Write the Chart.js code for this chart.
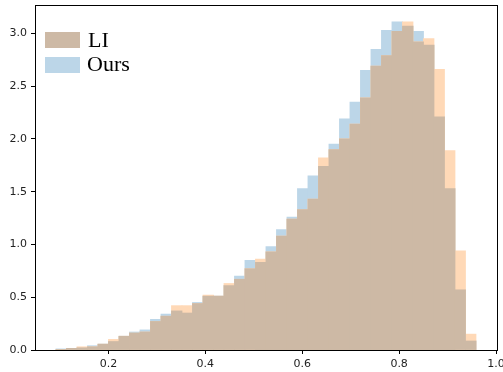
<!DOCTYPE html>
<html>
<head>
<meta charset="utf-8">
<script src="https://cdn.jsdelivr.net/npm/chart.js@4.4.1/dist/chart.umd.min.js"></script>
<style>
body{margin:0;background:#fff;}
#wrap{position:relative;width:503px;height:372px;}
.patch{position:absolute;left:45px;width:35px;height:16px;}
.lbl{position:absolute;left:88px;font-family:"Liberation Serif","Times New Roman",serif;font-size:22px;line-height:22px;color:#000;white-space:nowrap;}
</style>
</head>
<body>
<div id="wrap">
  <canvas id="histChart" width="503" height="372"></canvas>
  <div class="patch" style="top:32px;background:#cdb9a5;"></div>
  <div class="lbl" style="top:29px;">LI</div>
  <div class="patch" style="top:57px;background:#bcd6e8;"></div>
  <div class="lbl" style="top:53px;left:87px;">Ours</div>
</div>
<script>
// histogram bins (40 equal bins)
var binStart = 0.0918;
var binWidth = 0.02167;

// density per bin
var liDensity = [0.005,0.015,0.03,0.03,0.055,0.10,0.13,0.16,0.17,0.27,
                 0.32,0.42,0.42,0.44,0.52,0.51,0.63,0.67,0.77,0.86,
                 0.93,1.08,1.24,1.33,1.43,1.82,1.90,2.00,2.14,2.39,
                 2.69,2.79,3.02,3.11,2.92,2.95,2.66,1.89,0.94,0.15];
var oursDensity = [0.01,0.015,0.02,0.04,0.055,0.08,0.13,0.17,0.19,0.29,
                   0.34,0.37,0.35,0.45,0.51,0.51,0.61,0.70,0.85,0.83,
                   0.98,1.14,1.26,1.53,1.65,1.74,1.95,2.19,2.35,2.65,
                   2.85,3.03,3.11,3.07,3.02,2.89,2.21,1.53,0.57,0.085];

var xTicks = [0.2, 0.4, 0.6, 0.8, 1.0];
var yTicks = [0.0, 0.5, 1.0, 1.5, 2.0, 2.5, 3.0];

var centers = liDensity.map(function(v, i){ return binStart + binWidth*(i + 0.5); });
function pts(arr){ return arr.map(function(v, i){ return {x: centers[i], y: v}; }); }
var both = liDensity.map(function(v, i){ return Math.min(v, oursDensity[i]); });

// box around the axes, like matplotlib spines
var frame = {
  id: 'frame',
  afterDraw: function(chart){
    var a = chart.chartArea, c = chart.ctx;
    c.save();
    c.strokeStyle = '#000';
    c.lineWidth = 1;
    c.strokeRect(Math.round(a.left)+0.5, Math.round(a.top)+0.5, Math.round(a.right-a.left), Math.round(a.bottom-a.top));
    c.restore();
  }
};

var ctx = document.getElementById("histChart");
var histChart = new Chart(ctx, {
  type: 'bar',
  data: {
    datasets: [{
      label: 'overlap',
      data: pts(both),
      backgroundColor: '#cdb9a5',
      order: 0
    },{
      label: 'LI',
      data: pts(liDensity),
      backgroundColor: '#ffd9b7',
      order: 1
    },{
      label: 'Ours',
      data: pts(oursDensity),
      backgroundColor: '#bcd6e8',
      order: 2
    }]
  },
  options: {
    responsive: false,
    animation: false,
    events: [],
    layout: { padding: { top: 5, right: 6, left: 0, bottom: 0 } },
    datasets: {
      bar: {
        grouped: false,
        barPercentage: 1,
        categoryPercentage: 1,
        borderWidth: 0,
        inflateAmount: 0.4
      }
    },
    plugins: { legend: { display: false }, tooltip: { enabled: false } },
    scales: {
      x: {
        type: 'linear',
        min: 0.0485,
        max: 1.002,
        offset: false,
        afterBuildTicks: function(s){ s.ticks = xTicks.map(function(v){ return {value: v}; }); },
        afterFit: function(s){ s.height = 22; s.paddingLeft = 0; s.paddingRight = 0; },
        grid: { drawOnChartArea: false, drawTicks: true, tickLength: 4, color: '#000', offset: false },
        border: { display: true, color: '#000' },
        ticks: {
          padding: 4,
          color: '#222',
          maxRotation: 0,
          font: { family: 'DejaVu Sans', size: 11 },
          callback: function(v){ return v.toFixed(1); }
        }
      },
      y: {
        min: 0,
        max: 3.27,
        afterBuildTicks: function(s){ s.ticks = yTicks.map(function(v){ return {value: v}; }); },
        afterFit: function(s){ s.width = 35; s.paddingTop = 0; s.paddingBottom = 0; },
        grid: { drawOnChartArea: false, drawTicks: true, tickLength: 4, color: '#000' },
        border: { display: true, color: '#000' },
        ticks: {
          padding: 4,
          color: '#222',
          font: { family: 'DejaVu Sans', size: 11 },
          callback: function(v){ return v.toFixed(1); }
        }
      }
    }
  },
  plugins: [frame]
});
</script>
</body>
</html>
